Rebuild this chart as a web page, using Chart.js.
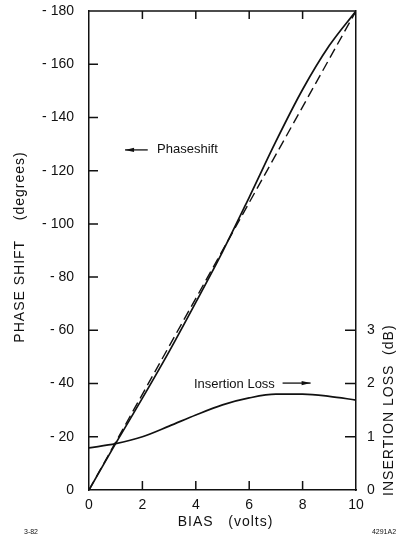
<!DOCTYPE html>
<html>
<head>
<meta charset="utf-8">
<script src="https://cdn.jsdelivr.net/npm/chart.js@4.4.1/dist/chart.umd.min.js"></script>
<style>
  body { margin: 0; background: #fff; }
</style>
</head>
<body>
<canvas id="chart" width="401" height="548"></canvas>
<script>
// values
const biasVolts = [0, 1, 2, 3, 4, 5, 6, 7, 8, 9, 10];
const phaseShift = [0, -17.5, -34.5, -52, -70.5, -89.5, -110, -131, -150.5, -167, -180];
const insertionLoss = [0.79, 0.87, 1.0, 1.2, 1.41, 1.6, 1.73, 1.8, 1.8, 1.76, 1.69];
// dashed straight reference line
const linearBias = [0, 10];
const linearPhase = [0, -180];
const lossTickLabels = [0, 1, 2, 3];

const FONT = "'Liberation Sans', Arial, sans-serif";
const INK = '#111';

function pts(xs, ys) {
    return xs.map((x, i) => ({ x: x, y: ys[i] }));
}

function arrow(ctx, x1, y, x2) {
    // line from x1 to x2, head at x2
    const dir = x2 > x1 ? 1 : -1;
    ctx.beginPath();
    ctx.moveTo(x1, y);
    ctx.lineTo(x2, y);
    ctx.stroke();
    ctx.beginPath();
    ctx.moveTo(x2, y);
    ctx.lineTo(x2 - dir * 9, y - 2.2);
    ctx.lineTo(x2 - dir * 9, y + 2.2);
    ctx.closePath();
    ctx.fill();
}

// inward tick marks, top frame line, labels and titles
const decor = {
    id: 'decor',
    afterDraw(chart) {
        const ctx = chart.ctx;
        const a = chart.chartArea;
        const x = chart.scales.x, y = chart.scales.y, y2 = chart.scales.y2;
        ctx.save();
        ctx.strokeStyle = INK;
        ctx.fillStyle = INK;
        ctx.lineWidth = 1.5;

        ctx.beginPath();
        ctx.moveTo(a.left, a.top);
        ctx.lineTo(a.right, a.top);
        ctx.stroke();

        ctx.beginPath();
        for (let v = -160; v <= -20; v += 20) {
            const py = y.getPixelForValue(v);
            ctx.moveTo(a.left, py);
            ctx.lineTo(a.left + 9, py);
        }
        for (let v = 1; v <= 3; v++) {
            const py = y2.getPixelForValue(v);
            ctx.moveTo(a.right, py);
            ctx.lineTo(a.right - 11, py);
        }
        for (let v = 2; v <= 8; v += 2) {
            const px = x.getPixelForValue(v);
            ctx.moveTo(px, a.bottom);
            ctx.lineTo(px, a.bottom - 9);
            ctx.moveTo(px, a.top);
            ctx.lineTo(px, a.top + 8);
        }
        ctx.stroke();

        // annotations
        ctx.font = '13px ' + FONT;
        ctx.textBaseline = 'middle';
        ctx.textAlign = 'left';
        ctx.lineWidth = 1.3;
        const pY = y.getPixelForValue(-127.8);
        ctx.fillText('Phaseshift', x.getPixelForValue(2.55), pY);
        arrow(ctx, x.getPixelForValue(2.2), pY, x.getPixelForValue(1.35));
        const lY = y2.getPixelForValue(1.99);
        ctx.fillText('Insertion Loss', x.getPixelForValue(3.93), lY);
        arrow(ctx, x.getPixelForValue(7.25), lY - 1, x.getPixelForValue(8.3));

        // axis titles
        ctx.font = '14px ' + FONT;
        ctx.textAlign = 'center';
        ctx.letterSpacing = '1px';
        ctx.save();
        ctx.translate(20, 247);
        ctx.rotate(-Math.PI / 2);
        ctx.fillText('PHASE SHIFT    (degrees)', 0, 0);
        ctx.restore();

        ctx.save();
        ctx.translate(389, y2.getPixelForValue(1.5));
        ctx.rotate(-Math.PI / 2);
        ctx.fillText('INSERTION LOSS  (dB)', 0, 0);
        ctx.restore();

        ctx.fillText('BIAS   (volts)', (a.left + a.right) / 2 + 3, 522);

        ctx.letterSpacing = '0px';
        ctx.font = '7px ' + FONT;
        ctx.fillText('3-82', 31, 532);
        ctx.fillText('4291A2', 384, 532);
        ctx.restore();
    }
};

const ctx = document.getElementById('chart');
new Chart(ctx, {
    type: 'line',
    data: {
        datasets: [
            {
                data: pts(biasVolts, phaseShift),
                yAxisID: 'y',
                borderColor: INK,
                borderWidth: 1.7,
                pointRadius: 0,
                cubicInterpolationMode: 'monotone'
            },
            {
                data: pts(linearBias, linearPhase),
                yAxisID: 'y',
                borderColor: INK,
                borderWidth: 1.4,
                borderDash: [10, 5],
                pointRadius: 0
            },
            {
                data: pts(biasVolts, insertionLoss),
                yAxisID: 'y2',
                borderColor: INK,
                borderWidth: 1.7,
                pointRadius: 0,
                cubicInterpolationMode: 'monotone'
            }
        ]
    },
    options: {
        responsive: false,
        animation: false,
        devicePixelRatio: 1,
        layout: { padding: { top: 11, left: 0, right: 0, bottom: 0 } },
        plugins: {
            legend: { display: false },
            tooltip: { enabled: false }
        },
        scales: {
            x: {
                type: 'linear',
                min: 0,
                max: 10,
                ticks: { stepSize: 2, color: INK, font: { family: FONT, size: 14 }, padding: 7 },
                grid: { display: false, drawTicks: false },
                border: { color: INK, width: 1.5 },
                afterFit(s) { s.height = 58; s.paddingLeft = 0; s.paddingRight = 0; }
            },
            y: {
                type: 'linear',
                position: 'left',
                min: -180,
                max: 0,
                reverse: true,
                ticks: {
                    stepSize: 20,
                    color: INK,
                    font: { family: FONT, size: 14 },
                    padding: 15,
                    callback: v => v === 0 ? '0' : '- ' + Math.abs(v)
                },
                grid: { display: false, drawTicks: false },
                border: { color: INK, width: 1.5 },
                afterFit(s) { s.width = 89; s.paddingTop = 0; s.paddingBottom = 0; }
            },
            y2: {
                type: 'linear',
                position: 'right',
                min: 0,
                max: 9,
                ticks: {
                    stepSize: 1,
                    color: INK,
                    font: { family: FONT, size: 14 },
                    padding: 11,
                    callback: v => lossTickLabels.includes(v) ? String(v) : ''
                },
                grid: { display: false, drawTicks: false },
                border: { color: INK, width: 1.5 },
                afterFit(s) { s.width = 45; s.paddingTop = 0; s.paddingBottom = 0; }
            }
        }
    },
    plugins: [decor]
});
</script>
</body>
</html>
